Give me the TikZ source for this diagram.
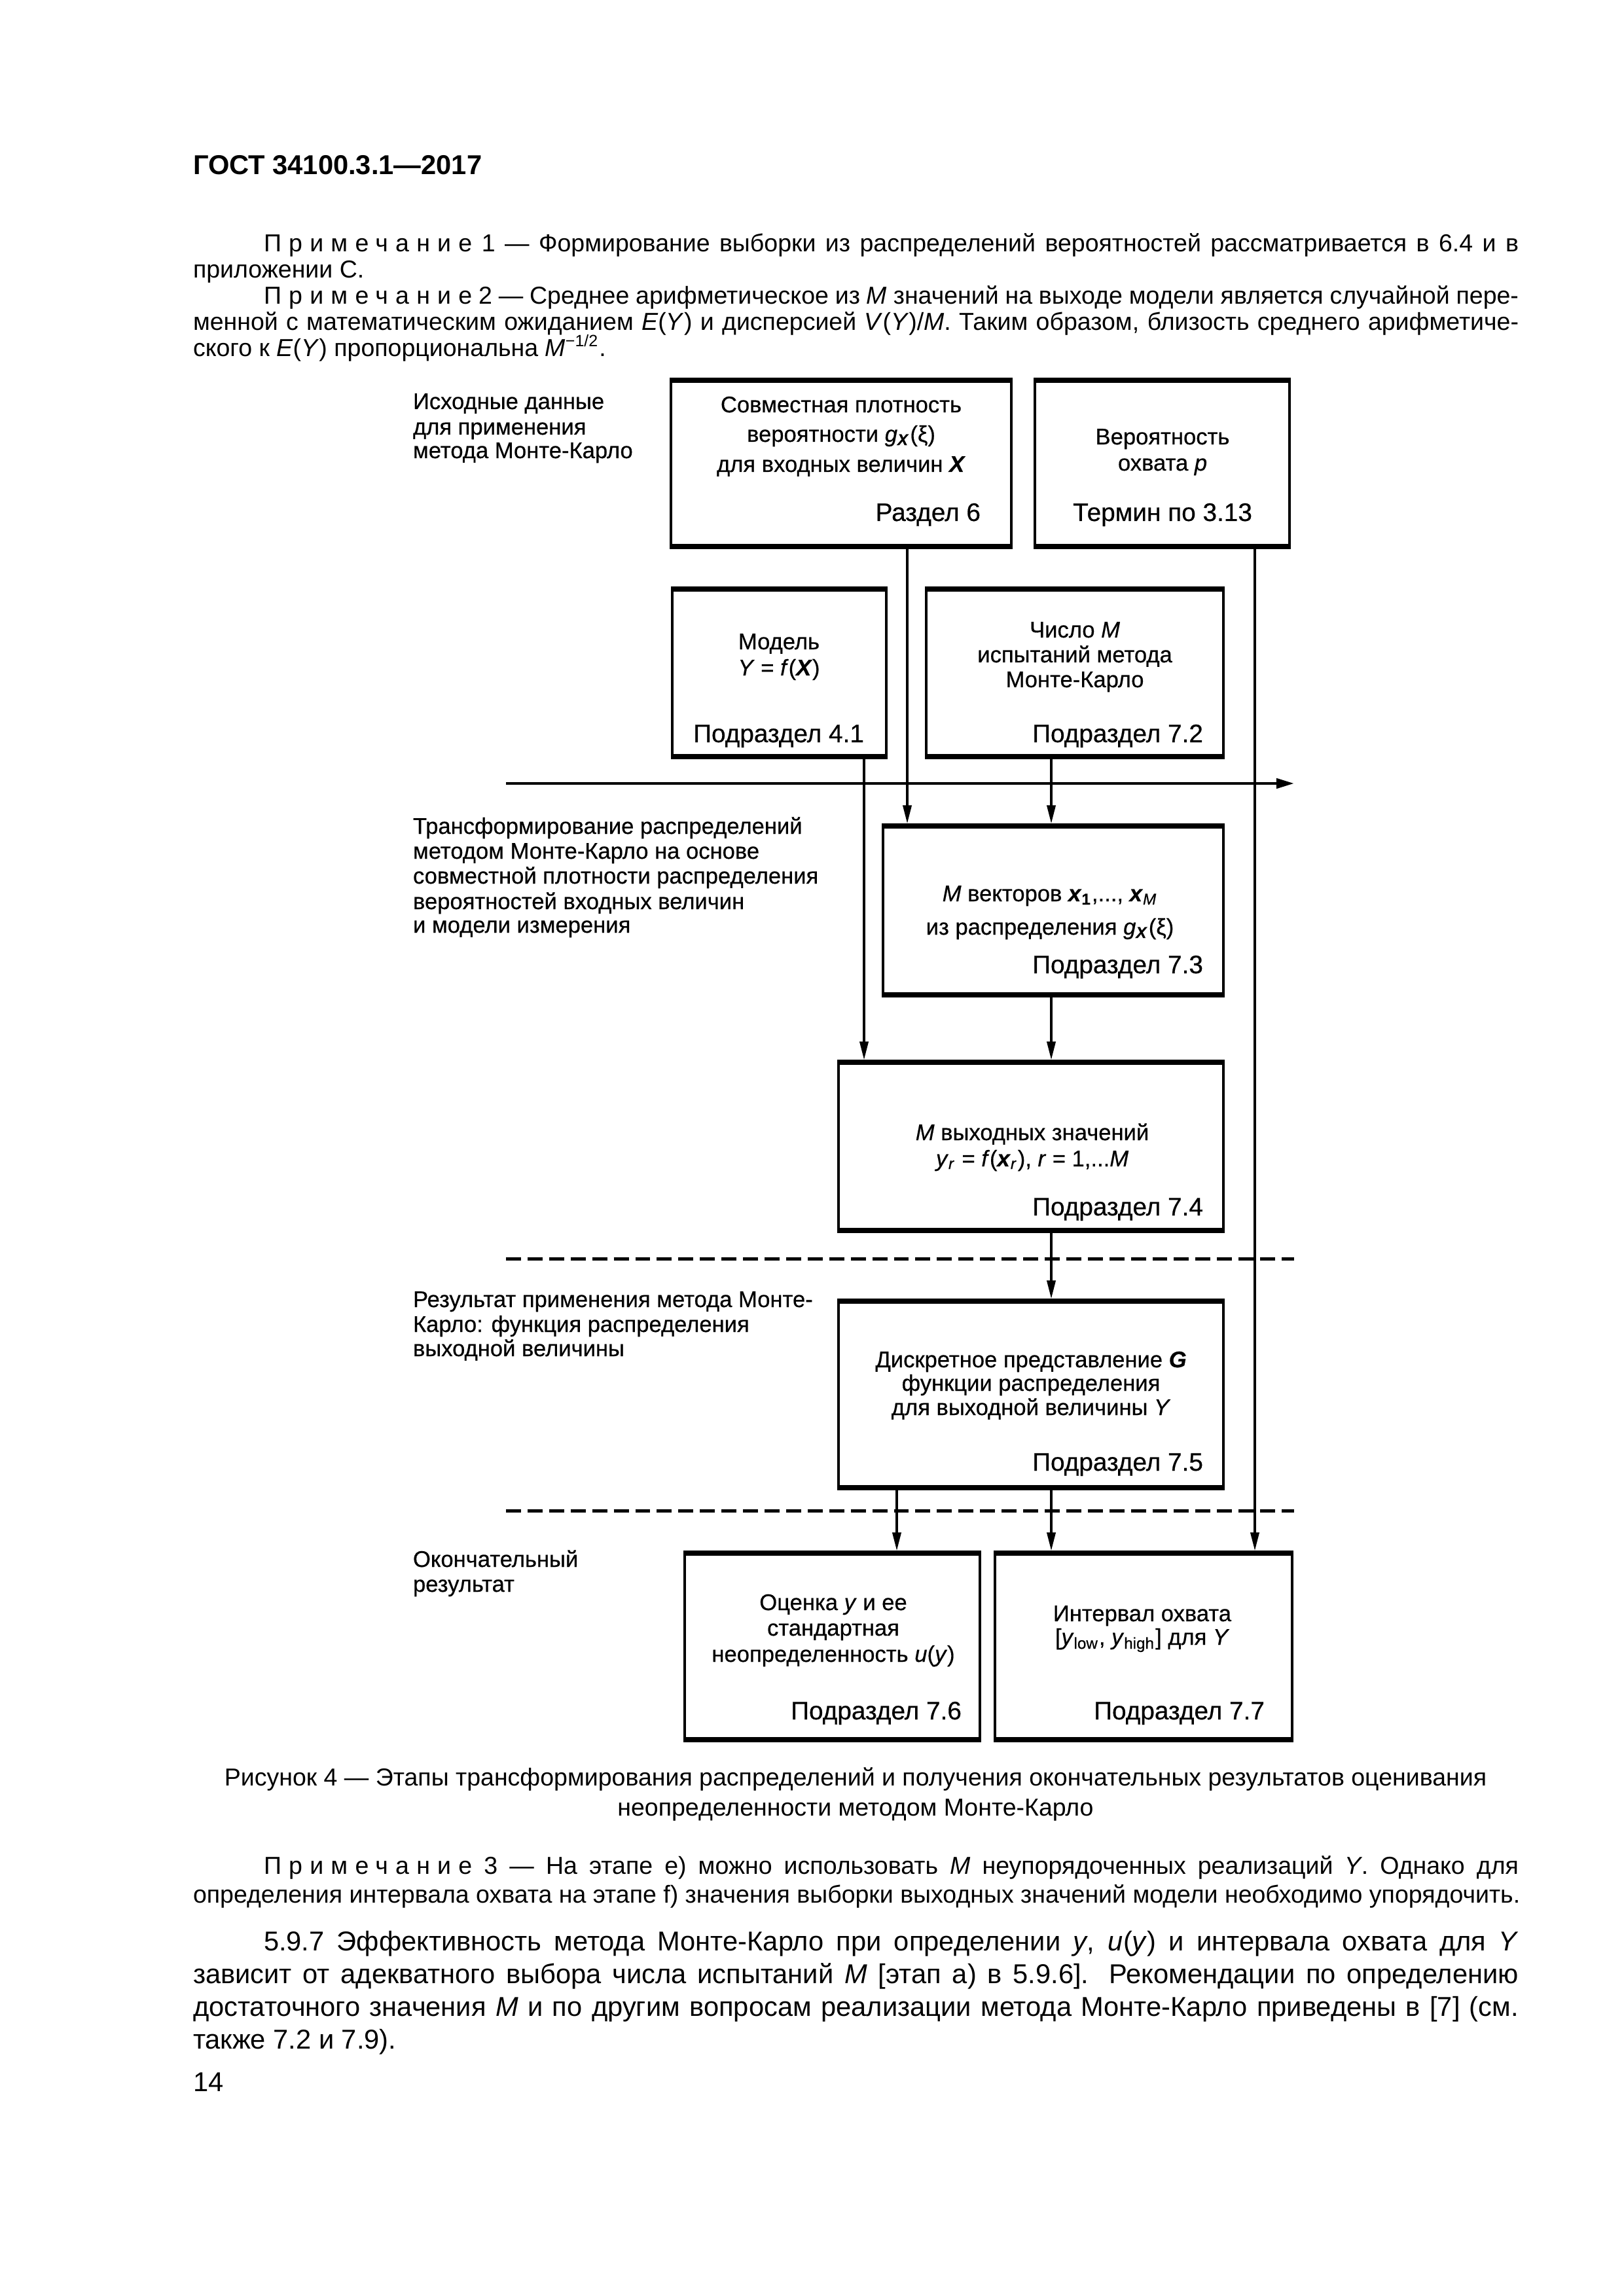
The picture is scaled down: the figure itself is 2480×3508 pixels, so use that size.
\documentclass[tikz,border=0pt]{standalone}
\usepackage{fontspec}
\setmainfont{Liberation Sans}
\newfontfamily\dg{Liberation Sans}[FakeBold=0.5]
\usetikzlibrary{arrows.meta,fit}
\newcommand\prim{{\addfontfeature{LetterSpace=30}Примечание}}
\begin{document}
\begin{tikzpicture}[x=0.24pt,y=-0.24pt,
  every node/.style={inner sep=0pt,outer sep=0pt},
  bx/.style={inner sep=0pt,draw=none},
  side/.style={line width=0.96pt},
  topbot/.style={line width=1.7pt},
  arr/.style={line width=0.96pt,-{Triangle[length=6.8pt,width=3.1pt]},shorten >=0.8pt},
  lab/.style={font=\dg\fontsize{8.3}{10}\selectfont,anchor=base},
  lft/.style={font=\dg\fontsize{8.3}{10}\selectfont,anchor=base west},
  sec/.style={font=\dg\fontsize{9.3}{11}\selectfont,anchor=base east},
  secc/.style={font=\dg\fontsize{9.3}{11}\selectfont,anchor=base},
  note/.style={font=\fontsize{9}{10.8}\selectfont,anchor=base west},
  body/.style={font=\fontsize{10}{12}\selectfont,anchor=base west},
  dsh/.style={line width=1.2pt,dash pattern=on 5.5pt off 2.4pt}]
\fill[white] (0,0) rectangle (2480,3508);
\useasboundingbox (0,0) rectangle (2480,3508);

% ---------- header and notes ----------
\node[anchor=base west,font=\fontsize{10}{12}\selectfont\bfseries] (hdr) at (295,267) {ГОСТ 34100.3.1—2017};
\node[note] (n1a) at (403,385) {\makebox[460.1pt][s]{\prim\ 1 — Формирование выборки из распределений вероятностей рассматривается в 6.4 и в}};
\node[note] (n1b) at (295,425) {приложении С.};
\node[note] (n2a) at (403,465) {\makebox[460.1pt][s]{\prim\ 2 — Среднее арифметическое из \textit{M} значений на выходе модели является случайной пере-}};
\node[note] (n2b) at (295,505) {\makebox[486pt][s]{менной с математическим ожиданием \textit{E}(\textit{Y}) и дисперсией \textit{V}(\textit{Y})/\textit{M}. Таким образом, близость среднего арифметиче-}};
\node[note] (n2c) at (295,545) {ского к \textit{E}(\textit{Y}) пропорциональна \textit{M}\textsuperscript{−1/2}.};

% ---------- boxes ----------
\node[bx,fit={(1025,581) (1545,835)}] (A) {};
\node[bx,fit={(1581,581) (1970,835)}] (B) {};
\node[bx,fit={(1027,900) (1354,1156)}] (C) {};
\node[bx,fit={(1415,900) (1869,1156)}] (D) {};
\node[bx,fit={(1349,1262) (1869,1520)}] (E) {};
\node[bx,fit={(1281,1623) (1869,1880)}] (F) {};
\node[bx,fit={(1281,1988) (1869,2273)}] (G) {};
\node[bx,fit={(1046,2373) (1497,2658)}] (H) {};
\node[bx,fit={(1520,2373) (1974,2658)}] (I) {};
\foreach \b in {A,B,C,D,E,F,G,H,I}{
  \draw[side] (\b.north west) -- (\b.south west) (\b.north east) -- (\b.south east);
  \draw[topbot] ([xshift=-0.48pt]\b.north west) -- ([xshift=0.48pt]\b.north east);
  \draw[topbot] ([xshift=-0.48pt]\b.south west) -- ([xshift=0.48pt]\b.south east);
}

% ---------- box texts ----------
\node[lab] (a1) at (1285,630) {Совместная плотность};
\node[lab] (a2) at (1285,675) {вероятности \textit{g}\textsubscript{\textbf{\textit{X}}}(ξ)};
\node[lab] (a3) at (1285,721) {для входных величин \textbf{\textit{X}}};
\node[sec] (a4) at (1498,796) {Раздел 6};

\node[lab] (b1) at (1776,679) {Вероятность};
\node[lab] (b2) at (1776,719) {охвата \textit{p}};
\node[secc] (b3) at (1776,796) {Термин по 3.13};

\node[lab] (c1) at (1190,992) {Модель};
\node[lab] (c2) at (1190,1032) {\textit{Y} = \textit{f}(\textbf{\textit{X}})};
\node[sec] (c3) at (1320,1134) {Подраздел 4.1};

\node[lab] (d1) at (1642,974) {Число \textit{M}};
\node[lab] (d2) at (1642,1012) {испытаний метода};
\node[lab] (d3) at (1642,1050) {Монте-Карло};
\node[sec] (d4) at (1838,1134) {Подраздел 7.2};

\node[lab] (e1) at (1604,1377) {\textit{M} векторов \textbf{\textit{x}}\textsubscript{\textbf{1}},..., \textbf{\textit{x}}\textsubscript{\textit{M}}};
\node[lab] (e2) at (1604,1428) {из распределения \textit{g}\textsubscript{\textbf{\textit{X}}}(ξ)};
\node[sec] (e3) at (1838,1487) {Подраздел 7.3};

\node[lab] (f1) at (1577,1742) {\textit{M} выходных значений};
\node[lab] (f2) at (1577,1782) {\textit{y}\textsubscript{\textit{r}} = \textit{f}(\textbf{\textit{x}}\textsubscript{\textit{r}}), \textit{r} = 1,...\textit{M}};
\node[sec] (f3) at (1838,1857) {Подраздел 7.4};

\node[lab] (g1) at (1575,2089) {Дискретное представление \textbf{\textit{G}}};
\node[lab] (g2) at (1575,2125) {функции распределения};
\node[lab] (g3) at (1575,2162) {для выходной величины \textit{Y}};
\node[sec] (g4) at (1838,2247) {Подраздел 7.5};

\node[lab] (h1) at (1273,2460) {Оценка \textit{y} и ее};
\node[lab] (h2) at (1273,2499) {стандартная};
\node[lab] (h3) at (1273,2539) {неопределенность \textit{u}(\textit{y})};
\node[sec] (h4) at (1469,2627) {Подраздел 7.6};

\node[lab] (i1) at (1745,2477) {Интервал охвата};
\node[lab] (i2) at (1745,2513) {[\textit{y}\textsubscript{low}, \textit{y}\textsubscript{high}] для \textit{Y}};
\node[sec] (i3) at (1932,2627) {Подраздел 7.7};

% ---------- left labels ----------
\node[lft] (l11) at (631,625) {Исходные данные};
\node[lft] (l12) at (631,664) {для применения};
\node[lft] (l13) at (631,700) {метода Монте-Карло};
\node[lft] (l21) at (631,1274) {Трансформирование распределений};
\node[lft] (l22) at (631,1312) {методом Монте-Карло на основе};
\node[lft] (l23) at (631,1350) {совместной плотности распределения};
\node[lft] (l24) at (631,1389) {вероятностей входных величин};
\node[lft] (l25) at (631,1425) {и модели измерения};
\node[lft] (l31) at (631,1997) {Результат применения метода Монте-};
\node[lft] (l32) at (631,2035) {Карло: функция распределения};
\node[lft] (l33) at (631,2072) {выходной величины};
\node[lft] (l41) at (631,2394) {Окончательный};
\node[lft] (l42) at (631,2432) {результат};

% ---------- separators ----------
\coordinate (hl) at (773,1197);
\coordinate (hr) at (1977,1197);
\draw[line width=1.1pt,-{Triangle[length=6.5pt,width=3.6pt]}] (hl) -- (hr);
\coordinate (d1l) at (773,1923);
\coordinate (d1r) at (1977,1923);
\draw[dsh] (d1l) -- (d1r);
\coordinate (d2l) at (773,2308);
\coordinate (d2r) at (1977,2308);
\draw[dsh] (d2l) -- (d2r);

% ---------- connectors ----------
\coordinate (xA) at (1386,0);
\coordinate (xB) at (1917,0);
\coordinate (xC) at (1320,0);
\coordinate (xD) at (1606,0);
\coordinate (xG) at (1370,0);
\draw[arr] (A.south -| xA) -- (E.north -| xA);
\draw[arr] (B.south -| xB) -- (I.north -| xB);
\draw[arr] (C.south -| xC) -- (F.north -| xC);
\draw[arr] (D.south -| xD) -- (E.north -| xD);
\draw[arr] (E.south -| xD) -- (F.north -| xD);
\draw[arr] (F.south -| xD) -- (G.north -| xD);
\draw[arr] (G.south -| xG) -- (H.north -| xG);
\draw[arr] (G.south -| xD) -- (I.north -| xD);

% ---------- caption and text below ----------
\node[anchor=base,font=\fontsize{9}{10.8}\selectfont] (cap1) at (1307,2728) {Рисунок 4 — Этапы трансформирования распределений и получения окончательных результатов оценивания};
\node[anchor=base,font=\fontsize{9}{10.8}\selectfont] (cap2) at (1307,2774) {неопределенности методом Монте-Карло};
\node[note] (n3a) at (403,2863) {\makebox[460.1pt][s]{\prim\ 3 — На этапе е) можно использовать \textit{M} неупорядоченных реализаций \textit{Y}. Однако для}};
\node[note] (n3b) at (295,2907) {определения интервала охвата на этапе f) значения выборки выходных значений модели необходимо упорядочить.};
\node[body] (p1) at (403,2980) {\makebox[460.1pt][s]{5.9.7 Эффективность метода Монте-Карло при определении \textit{y}, \textit{u}(\textit{y}) и интервала охвата для \textit{Y}}};
\node[body] (p2) at (295,3030) {\makebox[486pt][s]{зависит от адекватного выбора числа испытаний \textit{M} [этап а) в 5.9.6]. Рекомендации по определению}};
\node[body] (p3) at (295,3080) {\makebox[486pt][s]{достаточного значения \textit{M} и по другим вопросам реализации метода Монте-Карло приведены в [7] (см.}};
\node[body] (p4) at (295,3130) {также 7.2 и 7.9).};
\node[body] (pg) at (295,3195) {14};
\end{tikzpicture}
\end{document}
